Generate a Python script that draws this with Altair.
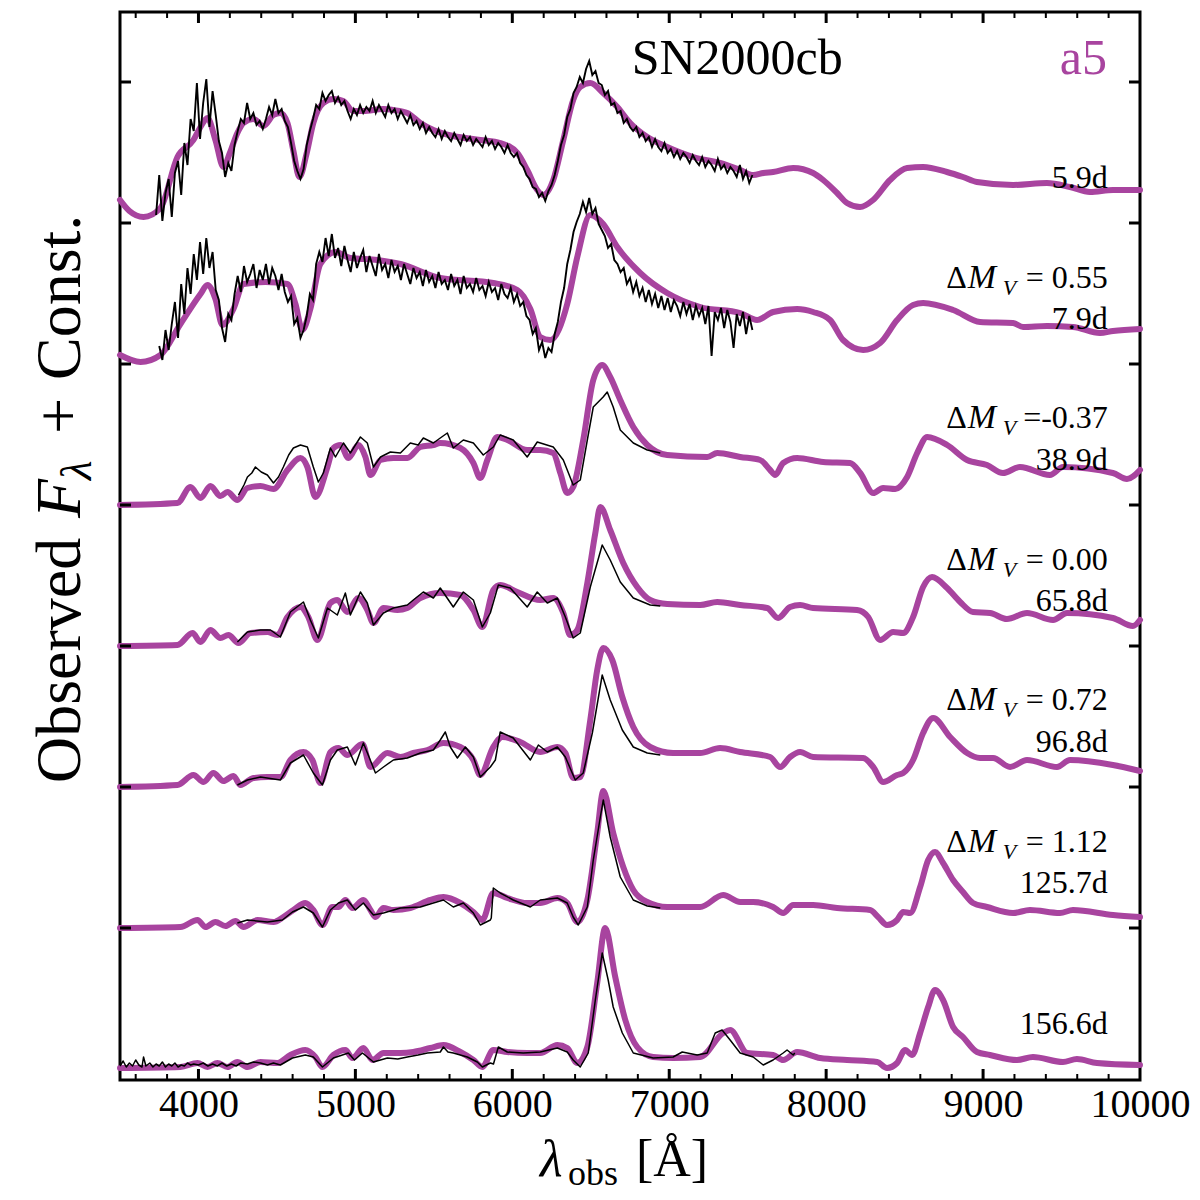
import altair as alt
import pandas as pd

PURPLE = "#a8449f"
FONT = "Liberation Serif"

# ---------------- axis / tick definitions ----------------
X_LABEL_VALUES = [4000, 5000, 6000, 7000, 8000, 9000, 10000]
X_MAJOR_TICKS = [4000, 5000, 6000, 7000, 8000, 9000]
X_MINOR_TICKS = [3600, 3800, 4200, 4400, 4600, 4800, 5200, 5400, 5600, 5800,
                 6200, 6400, 6600, 6800, 7200, 7400, 7600, 7800, 8200, 8400,
                 8600, 8800, 9200, 9400, 9600, 9800]
Y_TICKS = [141, 282, 423, 564, 705, 846, 987]

# vertical offset ("Const.") of each spectrum, top to bottom
OFFSETS = [846, 705, 564, 423, 282, 141, 0]
EPOCHS = ["5.9d", "7.9d", "38.9d", "65.8d", "96.8d", "125.7d", "156.6d"]
DELTA_MV = ["", "= 0.55", "=-0.37", "= 0.00", "= 0.72", "= 1.12", ""]
EPOCH_LABEL_Y = [881, 740, 599, 458, 317, 176, 35]
DMV_LABEL_Y = [0, 781, 641, 499, 359, 217, 0]
LABEL_WAVE = 9795

# ---------------- model spectra (a5), (wavelength, flux) ----------------
MODEL_0 = [(3500, 23), (3560, 12), (3650, 6), (3758, 15), (3866, 66), (3968, 83), (4013, 96),
           (4057, 105), (4108, 83), (4159, 56), (4200, 70), (4248, 90), (4287, 100), (4350, 104),
           (4414, 97), (4478, 108), (4522, 110), (4567, 100), (4605, 72), (4643, 46), (4690, 70),
           (4732, 100), (4796, 120), (4860, 124), (4923, 122), (4987, 112), (5051, 112),
           (5178, 114), (5242, 113), (5331, 110), (5414, 100), (5497, 93), (5624, 87), (5796, 83),
           (5923, 80), (6032, 70), (6095, 53), (6159, 33), (6197, 28), (6261, 43), (6325, 83),
           (6388, 123), (6433, 136), (6497, 140), (6579, 130), (6669, 116), (6751, 100),
           (6860, 86), (6987, 76), (7153, 66), (7324, 60), (7452, 53), (7535, 48), (7600, 50),
           (7662, 51), (7790, 55), (7917, 50), (7981, 43), (8070, 30), (8133, 20), (8216, 16),
           (8299, 23), (8407, 43), (8516, 55), (8618, 56), (8770, 51), (8872, 46), (8961, 41),
           (9191, 38), (9407, 40), (9554, 36), (9681, 31), (9828, 33), (10000, 33)]
MODEL_1 = [(3500, 9), (3631, 2), (3758, 9), (3885, 40), (4013, 70), (4057, 79), (4108, 65),
           (4153, 39), (4223, 55), (4287, 80), (4427, 82), (4567, 80), (4618, 60), (4662, 34),
           (4713, 55), (4777, 100), (4873, 112), (4968, 106), (5140, 104), (5287, 100),
           (5541, 86), (5879, 81), (6032, 74), (6115, 55), (6178, 27), (6242, 24), (6350, 60),
           (6414, 107), (6497, 149), (6579, 140), (6669, 117), (6815, 91), (6987, 71),
           (7197, 57), (7452, 51), (7560, 44), (7662, 52), (7815, 55), (7917, 52), (8025, 44),
           (8108, 24), (8236, 14), (8344, 21), (8452, 44), (8554, 59), (8618, 61), (8809, 54),
           (8981, 42), (9191, 41), (9255, 37), (9407, 38), (9573, 37), (9745, 31), (9828, 33),
           (10000, 35)]
MODEL_2 = [(3500, 0), (3866, 2), (3949, 18), (4013, 7), (4076, 19), (4140, 9), (4185, 13),
           (4248, 5), (4312, 17), (4395, 19), (4478, 16), (4567, 35), (4650, 47), (4694, 38),
           (4745, 8), (4822, 38), (4860, 57), (4905, 60), (4956, 47), (5019, 60), (5064, 48),
           (5096, 30), (5160, 45), (5242, 47), (5331, 47), (5414, 58), (5497, 60), (5541, 62),
           (5669, 57), (5752, 42), (5796, 27), (5841, 45), (5904, 68), (5968, 65), (6095, 55),
           (6178, 55), (6261, 52), (6306, 32), (6350, 12), (6388, 18), (6452, 65), (6516, 125),
           (6573, 140), (6624, 128), (6688, 105), (6771, 78), (6860, 60), (6987, 50),
           (7242, 48), (7306, 52), (7452, 48), (7579, 45), (7643, 35), (7675, 30), (7726, 42),
           (7815, 47), (7981, 43), (8153, 42), (8217, 32), (8300, 12), (8363, 17), (8440, 16),
           (8516, 28), (8580, 52), (8644, 68), (8771, 60), (8898, 45), (9025, 40), (9127, 32),
           (9235, 38), (9426, 30), (9509, 38), (9827, 32), (9917, 26), (10000, 35)]
MODEL_3 = [(3500, 0), (3866, 1), (3962, 13), (4013, 4), (4076, 16), (4140, 8), (4191, 11),
           (4255, 3), (4331, 13), (4439, 14), (4503, 11), (4567, 29), (4650, 39), (4700, 29),
           (4758, 6), (4841, 43), (4885, 46), (4949, 34), (5019, 48), (5076, 36), (5115, 23),
           (5179, 38), (5268, 36), (5331, 38), (5414, 48), (5541, 53), (5669, 51), (5752, 36),
           (5809, 19), (5879, 56), (5923, 61), (6032, 54), (6178, 46), (6261, 48), (6325, 33),
           (6369, 11), (6414, 16), (6478, 63), (6529, 113), (6561, 139), (6624, 116),
           (6707, 83), (6796, 59), (6879, 46), (6987, 42), (7197, 41), (7306, 44), (7452, 41),
           (7624, 38), (7694, 28), (7770, 39), (7834, 41), (7917, 38), (8197, 36), (8268, 29),
           (8344, 6), (8427, 14), (8491, 13), (8554, 29), (8618, 59), (8675, 69), (8771, 58),
           (8854, 44), (8936, 34), (9044, 33), (9152, 27), (9280, 33), (9446, 26), (9535, 33),
           (9827, 28), (9955, 20), (10000, 26)]
MODEL_4 = [(3500, 0), (3866, 2), (3968, 12), (4032, 5), (4095, 14), (4159, 6), (4223, 11),
           (4268, 2), (4350, 9), (4439, 10), (4522, 10), (4586, 27), (4669, 35), (4726, 27),
           (4777, 4), (4841, 35), (4892, 39), (4949, 32), (5045, 43), (5096, 20), (5204, 34),
           (5287, 30), (5369, 34), (5459, 37), (5561, 44), (5669, 40), (5752, 27), (5796, 12),
           (5879, 40), (5936, 50), (6051, 45), (6178, 35), (6287, 40), (6338, 34), (6388, 9),
           (6433, 10), (6497, 67), (6541, 117), (6580, 139), (6637, 127), (6701, 90),
           (6771, 60), (6879, 40), (7025, 34), (7197, 34), (7324, 39), (7452, 35), (7643, 30),
           (7707, 20), (7770, 30), (7834, 35), (7917, 30), (8236, 29), (8300, 20), (8363, 5),
           (8452, 12), (8491, 14), (8554, 27), (8618, 54), (8682, 69), (8790, 50), (8898, 34),
           (8981, 29), (9064, 29), (9172, 20), (9280, 27), (9471, 20), (9554, 27), (9827, 22),
           (10000, 16)]
MODEL_5 = [(3500, 0), (3885, 1), (3994, 8), (4045, 1), (4108, 6), (4172, 2), (4236, 7),
           (4287, 1), (4376, 8), (4478, 6), (4541, 11), (4605, 18), (4681, 25), (4732, 18),
           (4790, 3), (4853, 21), (4892, 21), (4936, 28), (4981, 20), (5051, 28), (5096, 18),
           (5128, 11), (5179, 20), (5242, 18), (5350, 20), (5478, 28), (5561, 31), (5669, 25),
           (5752, 16), (5809, 8), (5879, 35), (5968, 30), (6095, 25), (6178, 25), (6287, 30),
           (6350, 25), (6414, 6), (6478, 28), (6541, 95), (6580, 137), (6643, 95), (6707, 61),
           (6771, 38), (6860, 26), (6987, 21), (7197, 21), (7344, 33), (7452, 26), (7535, 26),
           (7662, 21), (7726, 15), (7790, 23), (7917, 23), (8070, 20), (8280, 18), (8331, 11),
           (8388, 3), (8452, 8), (8491, 16), (8535, 15), (8599, 41), (8650, 68), (8694, 76),
           (8745, 65), (8809, 48), (8872, 36), (8936, 25), (9025, 21), (9191, 15), (9299, 18),
           (9490, 15), (9573, 18), (9828, 13), (10000, 11)]
MODEL_6 = [(3500, 1), (3885, 2), (3994, 6), (4057, 2), (4121, 6), (4185, 2), (4248, 7),
           (4312, 2), (4395, 7), (4503, 6), (4586, 14), (4681, 19), (4745, 12), (4790, 2),
           (4860, 14), (4936, 19), (4981, 11), (5051, 21), (5109, 9), (5179, 16), (5287, 16),
           (5369, 17), (5478, 21), (5561, 24), (5669, 17), (5752, 9), (5809, 2), (5879, 19),
           (5968, 17), (6095, 16), (6178, 16), (6287, 24), (6350, 21), (6414, 6), (6478, 22),
           (6541, 86), (6592, 141), (6656, 92), (6720, 49), (6796, 22), (6898, 12), (7025, 11),
           (7197, 12), (7344, 36), (7388, 39), (7497, 16), (7662, 14), (7726, 9), (7815, 17),
           (7962, 11), (8134, 9), (8325, 7), (8388, 1), (8452, 6), (8503, 19), (8548, 14),
           (8599, 36), (8650, 62), (8694, 79), (8745, 69), (8809, 42), (8872, 32), (8961, 17),
           (9044, 14), (9216, 9), (9318, 12), (9509, 7), (9598, 10), (9726, 6), (10000, 4)]

# ---------------- observed spectra (SN2000cb) ----------------
# early, noisy spectra: sampled every 20 A
OBS_WAVE_0 = [3730, 3750, 3770, 3790, 3810, 3830, 3850, 3870, 3890, 3910, 3930, 3950, 3970, 3990,
              4010, 4030, 4050, 4070, 4090, 4110, 4130, 4150, 4170, 4190, 4210, 4230, 4250, 4270,
              4290, 4310, 4330, 4350, 4370, 4390, 4410, 4430, 4450, 4470, 4490, 4510, 4530, 4550,
              4570, 4590, 4610, 4630, 4650, 4670, 4690, 4710, 4730, 4750, 4770, 4790, 4810, 4830,
              4850, 4870, 4890, 4910, 4930, 4950, 4970, 4990, 5010, 5030, 5050, 5070, 5090, 5110,
              5130, 5150, 5170, 5190, 5210, 5230, 5250, 5270, 5290, 5310, 5330, 5350, 5370, 5390,
              5410, 5430, 5450, 5470, 5490, 5510, 5530, 5550, 5570, 5590, 5610, 5630, 5650, 5670,
              5690, 5710, 5730, 5750, 5770, 5790, 5810, 5830, 5850, 5870, 5890, 5910, 5930, 5950,
              5970, 5990, 6010, 6030, 6050, 6070, 6090, 6110, 6130, 6150, 6170, 6190, 6210, 6230,
              6250, 6270, 6290, 6310, 6330, 6350, 6370, 6390, 6410, 6430, 6450, 6470, 6490, 6510,
              6530, 6550, 6570, 6590, 6610, 6630, 6650, 6670, 6690, 6710, 6730, 6750, 6770, 6790,
              6810, 6830, 6850, 6870, 6890, 6910, 6930, 6950, 6970, 6990, 7010, 7030, 7050, 7070,
              7090, 7110, 7130, 7150, 7170, 7190, 7210, 7230, 7250, 7270, 7290, 7310, 7330, 7350,
              7370, 7390, 7410, 7430, 7450, 7470, 7490, 7510, 7530]
OBS_FLUX_0 = [8, 48, 2, 30, 44, 6, 50, 62, 28, 80, 58, 104, 92, 140,
              84, 120, 144, 96, 132, 108, 82, 70, 46, 60, 52, 78, 92, 104,
              100, 120, 104, 110, 98, 102, 94, 104, 116, 108, 124, 110, 114, 102,
              96, 80, 62, 52, 44, 54, 78, 92, 104, 118, 114, 130, 122, 128,
              132, 120, 126, 118, 122, 112, 104, 114, 108, 118, 110, 116, 112, 122,
              110, 118, 112, 106, 118, 110, 114, 104, 112, 106, 100, 108, 98, 102,
              94, 100, 90, 96, 90, 86, 94, 84, 92, 86, 82, 90, 84, 78,
              88, 82, 86, 78, 84, 80, 76, 86, 78, 82, 74, 80, 76, 70,
              78, 70, 66, 70, 60, 56, 48, 44, 36, 34, 26, 30, 22, 32,
              38, 48, 62, 78, 88, 106, 114, 130, 136, 146, 140, 154, 162, 148,
              152, 140, 138, 128, 132, 118, 120, 110, 112, 100, 104, 96, 92, 96,
              86, 90, 82, 86, 76, 84, 76, 72, 80, 70, 74, 66, 72, 64,
              70, 66, 60, 68, 62, 58, 66, 56, 62, 58, 52, 64, 54, 58,
              50, 56, 52, 46, 58, 44, 52, 40, 48]
OBS_WAVE_1 = [3750, 3770, 3790, 3810, 3830, 3850, 3870, 3890, 3910, 3930, 3950, 3970, 3990,
              4010, 4030, 4050, 4070, 4090, 4110, 4130, 4150, 4170, 4190, 4210, 4230, 4250, 4270,
              4290, 4310, 4330, 4350, 4370, 4390, 4410, 4430, 4450, 4470, 4490, 4510, 4530, 4550,
              4570, 4590, 4610, 4630, 4650, 4670, 4690, 4710, 4730, 4750, 4770, 4790, 4810, 4830,
              4850, 4870, 4890, 4910, 4930, 4950, 4970, 4990, 5010, 5030, 5050, 5070, 5090, 5110,
              5130, 5150, 5170, 5190, 5210, 5230, 5250, 5270, 5290, 5310, 5330, 5350, 5370, 5390,
              5410, 5430, 5450, 5470, 5490, 5510, 5530, 5550, 5570, 5590, 5610, 5630, 5650, 5670,
              5690, 5710, 5730, 5750, 5770, 5790, 5810, 5830, 5850, 5870, 5890, 5910, 5930, 5950,
              5970, 5990, 6010, 6030, 6050, 6070, 6090, 6110, 6130, 6150, 6170, 6190, 6210, 6230,
              6250, 6270, 6290, 6310, 6330, 6350, 6370, 6390, 6410, 6430, 6450, 6470, 6490, 6510,
              6530, 6550, 6570, 6590, 6610, 6630, 6650, 6670, 6690, 6710, 6730, 6750, 6770, 6790,
              6810, 6830, 6850, 6870, 6890, 6910, 6930, 6950, 6970, 6990, 7010, 7030, 7050, 7070,
              7090, 7110, 7130, 7150, 7170, 7190, 7210, 7230, 7250, 7270, 7290, 7310, 7330, 7350,
              7370, 7390, 7410, 7430, 7450, 7470, 7490, 7510, 7530]
OBS_FLUX_1 = [18, 4, 34, 14, 40, 62, 26, 80, 50, 96, 70, 110, 84,
              122, 90, 126, 96, 112, 74, 64, 36, 22, 50, 44, 70, 88, 72,
              98, 82, 90, 100, 76, 94, 84, 100, 80, 96, 88, 74, 90, 72,
              62, 68, 40, 46, 26, 34, 48, 70, 64, 100, 112, 102, 126, 108,
              130, 106, 116, 98, 118, 104, 92, 112, 96, 106, 114, 92, 108, 98,
              88, 110, 94, 100, 86, 104, 92, 98, 84, 100, 90, 80, 96, 86,
              92, 78, 94, 82, 88, 76, 92, 80, 84, 74, 90, 78, 84, 70,
              88, 76, 80, 72, 86, 74, 78, 68, 82, 72, 76, 64, 80, 70,
              66, 76, 62, 70, 58, 62, 48, 44, 30, 36, 14, 22, 6, 16,
              12, 30, 42, 62, 76, 100, 114, 132, 142, 150, 162, 152, 166, 150,
              156, 140, 134, 128, 116, 120, 104, 100, 92, 96, 80, 86, 72, 82,
              68, 76, 62, 74, 60, 70, 56, 68, 54, 66, 52, 64, 58, 48,
              62, 50, 60, 44, 58, 48, 56, 40, 58, 8, 52, 44, 56, 36,
              54, 42, 16, 50, 38, 52, 30, 48, 34]

# later spectra, (wavelength, flux)
OBS_2 = [(4255, 10), (4290, 20), (4312, 28), (4340, 32), (4363, 38), (4400, 33), (4439, 30),
         (4478, 22), (4510, 28), (4541, 38), (4575, 50), (4605, 57), (4650, 60), (4694, 58),
         (4732, 38), (4764, 23), (4796, 32), (4841, 57), (4873, 48), (4924, 62), (4968, 52),
         (5032, 68), (5076, 62), (5115, 38), (5160, 48), (5223, 53), (5287, 52), (5350, 62),
         (5400, 60), (5433, 67), (5497, 62), (5541, 67), (5586, 72), (5624, 57), (5688, 65),
         (5752, 62), (5815, 50), (5879, 58), (5923, 70), (6006, 65), (6095, 48), (6159, 63),
         (6261, 58), (6325, 45), (6388, 20), (6433, 25), (6478, 65), (6516, 98), (6579, 108),
         (6605, 113), (6643, 98), (6688, 75), (6771, 62), (6860, 55), (6943, 52)]
OBS_3 = [(4248, 4), (4312, 14), (4395, 16), (4459, 16), (4522, 9), (4586, 34), (4669, 44),
         (4713, 26), (4764, 8), (4822, 38), (4885, 31), (4936, 53), (4968, 31), (5032, 54),
         (5076, 43), (5115, 21), (5179, 33), (5242, 38), (5331, 41), (5369, 46), (5433, 54),
         (5497, 48), (5541, 58), (5624, 39), (5688, 54), (5752, 46), (5809, 19), (5860, 33),
         (5911, 61), (5987, 58), (6095, 39), (6159, 54), (6223, 43), (6287, 48), (6338, 29),
         (6388, 8), (6433, 13), (6497, 59), (6573, 101), (6624, 86), (6688, 64), (6771, 48),
         (6879, 41), (6943, 40)]
OBS_4 = [(4248, 2), (4312, 7), (4395, 10), (4522, 7), (4586, 24), (4669, 32), (4732, 14),
         (4790, 2), (4841, 27), (4885, 37), (4949, 40), (5000, 22), (5051, 44), (5128, 14),
         (5179, 20), (5242, 27), (5331, 29), (5414, 34), (5497, 37), (5541, 47), (5573, 55),
         (5605, 40), (5650, 29), (5701, 40), (5752, 30), (5796, 10), (5860, 20), (5892, 27),
         (5923, 55), (6006, 49), (6115, 27), (6166, 42), (6223, 35), (6287, 40), (6338, 30),
         (6401, 7), (6452, 14), (6510, 54), (6573, 112), (6624, 87), (6701, 57), (6771, 40),
         (6860, 34), (6943, 32)]
OBS_5 = [(4248, 5), (4312, 8), (4439, 6), (4535, 8), (4599, 16), (4669, 21), (4732, 15),
         (4790, 1), (4841, 18), (4892, 25), (4949, 28), (5000, 18), (5051, 25), (5115, 13),
         (5179, 15), (5287, 20), (5414, 21), (5497, 25), (5561, 28), (5624, 21), (5688, 25),
         (5752, 15), (5796, 3), (5860, 8), (5866, 10), (5879, 40), (5923, 35), (6006, 28),
         (6115, 21), (6178, 28), (6287, 30), (6350, 25), (6388, 11), (6420, 3), (6478, 21),
         (6516, 68), (6561, 111), (6580, 128), (6624, 91), (6688, 51), (6771, 28), (6860, 22),
         (6943, 20)]
OBS_6 = [(3500, 3), (3520, 8), (3540, 2), (3560, 6), (3580, 3), (3600, 9), (3620, 4), (3640, 2),
         (3650, 12), (3665, 3), (3690, 6), (3710, 2), (3730, 5), (3750, 3), (3770, 7), (3790, 2),
         (3810, 5), (3830, 3), (3850, 6), (3870, 2), (3890, 4), (3910, 3), (3930, 6), (3950, 4),
         (3970, 5), (4000, 4), (4030, 6), (4060, 3), (4090, 5), (4120, 3), (4150, 6), (4180, 3),
         (4210, 5), (4240, 3), (4270, 6), (4312, 5), (4350, 7), (4395, 6), (4440, 4), (4478, 6),
         (4522, 4), (4599, 11), (4681, 14), (4732, 12), (4790, 2), (4860, 11), (4955, 16),
         (4994, 9), (5045, 16), (5115, 7), (5204, 11), (5270, 10), (5331, 12), (5400, 14),
         (5459, 16), (5541, 17), (5561, 22), (5590, 17), (5624, 16), (5713, 12), (5777, 7),
         (5809, 2), (5860, 6), (5880, 5), (5911, 22), (5968, 17), (6070, 16), (6178, 17),
         (6287, 21), (6350, 17), (6388, 9), (6433, 2), (6484, 16), (6529, 69), (6573, 116),
         (6611, 89), (6643, 62), (6701, 36), (6771, 16), (6898, 11), (7025, 12), (7083, 17),
         (7178, 14), (7242, 16), (7293, 36), (7337, 39), (7388, 29), (7452, 16), (7535, 12),
         (7599, 4), (7662, 9), (7726, 16), (7751, 19), (7790, 14), (7800, 16)]

MODELS = [MODEL_0, MODEL_1, MODEL_2, MODEL_3, MODEL_4, MODEL_5, MODEL_6]
OBSERVED = [list(zip(OBS_WAVE_0, OBS_FLUX_0)), list(zip(OBS_WAVE_1, OBS_FLUX_1)),
            OBS_2, OBS_3, OBS_4, OBS_5, OBS_6]


def to_frame(spectra):
    rows = []
    for k, pairs in enumerate(spectra):
        for i, (w, f) in enumerate(pairs):
            rows.append({"wave": w, "y": f + OFFSETS[k], "spec": k, "i": i})
    return pd.DataFrame(rows)


model_df = to_frame(MODELS)
obs_df = to_frame(OBSERVED)
noisy_df = obs_df[obs_df["spec"] < 2]
smooth_df = obs_df[obs_df["spec"] >= 2]

W, H = 1020, 1068
X_SCALE = alt.Scale(domain=[3500, 10000], nice=False, zero=False)
Y_SCALE = alt.Scale(domain=[-11, 1057], nice=False, zero=False)

x_enc = alt.X("wave:Q", scale=X_SCALE,
              axis=alt.Axis(values=X_LABEL_VALUES, ticks=False, domain=False, grid=False,
                            labelFont=FONT, labelFontSize=40, labelColor="black",
                            labelPadding=4, labelFlush=False, labelOverlap=False,
                            format="d", title=None))
y_enc = alt.Y("y:Q", scale=Y_SCALE, axis=None)

model_lines = alt.Chart(model_df).mark_line(
    color=PURPLE, strokeWidth=6, strokeJoin="round", strokeCap="round",
    interpolate="monotone"
).encode(x=x_enc, y=y_enc, detail="spec:N", order="i:Q")

noisy_lines = alt.Chart(noisy_df).mark_line(
    color="black", strokeWidth=1.9, strokeJoin="miter"
).encode(x=alt.X("wave:Q", scale=X_SCALE), y=alt.Y("y:Q", scale=Y_SCALE),
         detail="spec:N", order="i:Q")
smooth_lines = alt.Chart(smooth_df).mark_line(
    color="black", strokeWidth=1.5, strokeJoin="round"
).encode(x=alt.X("wave:Q", scale=X_SCALE), y=alt.Y("y:Q", scale=Y_SCALE),
         detail="spec:N", order="i:Q")


# ---- inward ticks ----
def xticks(values, y0, y1, width):
    return alt.Chart(pd.DataFrame({"wave": values})).mark_rule(
        color="black", strokeWidth=width
    ).encode(x=alt.X("wave:Q", scale=X_SCALE), y=alt.value(y0), y2=alt.value(y1))


def yticks(x0, x1):
    return alt.Chart(pd.DataFrame({"y": Y_TICKS})).mark_rule(
        color="black", strokeWidth=3
    ).encode(y=alt.Y("y:Q", scale=Y_SCALE), x=alt.value(x0), x2=alt.value(x1))


tick_layers = [
    xticks(X_MINOR_TICKS, 0, 6, 2), xticks(X_MAJOR_TICKS, 0, 11, 3),
    xticks(X_MINOR_TICKS, H - 6, H, 2), xticks(X_MAJOR_TICKS, H - 11, H, 3),
    yticks(0, 11), yticks(W - 11, W),
]

# ---- spectrum labels ----
lab_df = pd.DataFrame({"wave": [LABEL_WAVE] * 7, "y": EPOCH_LABEL_Y, "t": EPOCHS})
epoch_text = alt.Chart(lab_df).mark_text(
    font=FONT, fontSize=32, align="right", baseline="alphabetic", color="black"
).encode(x=alt.X("wave:Q", scale=X_SCALE), y=alt.Y("y:Q", scale=Y_SCALE), text="t:N")

dmv_df = pd.DataFrame({"wave": [LABEL_WAVE] * 5, "y": DMV_LABEL_Y[1:6], "t": DELTA_MV[1:6]})


def dmv_piece(text_field, dx, dy, size, align, style):
    return alt.Chart(dmv_df).mark_text(
        font=FONT, fontSize=size, align=align, baseline="alphabetic", color="black",
        dx=dx, dy=dy, fontStyle=style
    ).encode(x=alt.X("wave:Q", scale=X_SCALE), y=alt.Y("y:Q", scale=Y_SCALE),
             text=text_field)


dmv_layers = [
    dmv_piece("t:N", 0, 0, 32, "right", "normal"),
    dmv_piece(alt.value("Δ"), -141, 0, 32, "right", "normal"),
    dmv_piece(alt.value("M"), -140, 0, 34, "left", "italic"),
    dmv_piece(alt.value("V"), -105, 7, 22, "left", "italic"),
]

title_df = pd.DataFrame({"wave": [7433], "y": [995]})
sn_text = alt.Chart(title_df).mark_text(
    font=FONT, fontSize=50, align="center", baseline="alphabetic", color="black"
).encode(x=alt.X("wave:Q", scale=X_SCALE), y=alt.Y("y:Q", scale=Y_SCALE),
         text=alt.value("SN2000cb"))
a5_df = pd.DataFrame({"wave": [9790], "y": [995]})
a5_text = alt.Chart(a5_df).mark_text(
    font=FONT, fontSize=50, align="right", baseline="alphabetic", color=PURPLE
).encode(x=alt.X("wave:Q", scale=X_SCALE), y=alt.Y("y:Q", scale=Y_SCALE),
         text=alt.value("a5"))


# ---- axis titles built from pieces (sub-scripts) ----
def free_text(text, px, py, size, align="left", style="normal", angle=0):
    kw = dict(font=FONT, fontSize=size, align=align, baseline="alphabetic",
              color="black", fontStyle=style)
    if angle:
        kw["angle"] = angle
    return alt.Chart(pd.DataFrame({"t": [text]})).mark_text(**kw).encode(
        x=alt.value(px), y=alt.value(py), text="t:N")


title_layers = [
    free_text("λ", 420, 1164, 52, style="italic"),
    free_text("obs", 448, 1173, 36),
    free_text("[Å]", 516, 1164, 52),
    free_text("Observed", -40, 771, 64, angle=270),
    free_text("F", -40, 506, 64, style="italic", angle=270),
    free_text("λ", -29, 468, 45, style="italic", angle=270),
    free_text("+", -40, 422, 64, angle=270),
    free_text("Const.", -40, 368, 64, angle=270),
]

chart = alt.layer(
    model_lines, noisy_lines, smooth_lines, *tick_layers, epoch_text, *dmv_layers,
    sn_text, a5_text, *title_layers
).properties(
    width=W, height=H,
    autosize=alt.AutoSizeParams(type="none"),
    padding={"left": 120, "top": 12, "right": 60, "bottom": 120},
).configure_view(stroke="black", strokeWidth=3)

chart.save("out.html", embed_options={"renderer": "svg", "actions": False})
